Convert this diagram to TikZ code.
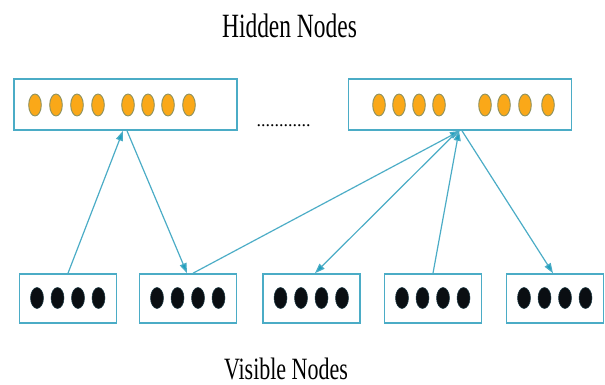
\documentclass[tikz,border=0pt]{standalone}
\usepackage{fontspec}
\setmainfont{Liberation Serif}
\usetikzlibrary{arrows.meta}
\definecolor{boxline}{RGB}{75,172,198}
\definecolor{tipcol}{RGB}{30,160,190}
\definecolor{hidfill}{RGB}{250,168,24}
\definecolor{hidedge}{RGB}{140,145,95}
\definecolor{visfill}{RGB}{10,14,18}
\tikzset{
  layerbox/.style={draw=boxline, line width=1.6pt, fill=white, inner sep=0pt},
  hiddenbox/.style={layerbox, minimum width=223pt, minimum height=51pt},
  visiblebox/.style={layerbox, minimum width=97pt, minimum height=49pt},
  hidunit/.style={fill=hidfill, draw=hidedge, line width=0.9pt},
  visunit/.style={fill=visfill, draw=visfill!70!boxline, line width=0.5pt},
  link/.style={draw=boxline, line width=1.2pt},
  arr/.style={link, -{Triangle[length=10pt,width=7pt,fill=tipcol]}},
}
\begin{document}
\begin{tikzpicture}[x=1pt,y=-1pt]
\useasboundingbox (0,0) rectangle (605,385);

% layer captions
\node[anchor=base, xscale=0.69, inner sep=0pt, font=\fontsize{34}{34}\selectfont] (hcap) at (289.5,38) {Hidden Nodes};
\node[anchor=base, xscale=0.71, inner sep=0pt, font=\fontsize{31}{31}\selectfont] (vcap) at (286,379) {Visible Nodes};

% hidden layer groups
\node[hiddenbox] (h1) at (125.5,104.5) {};
\node[hiddenbox] (h2) at (460,104.5) {};
\node[anchor=base, inner sep=0pt, font=\fontsize{18}{18}\selectfont] (gap) at (283.5,127) {............};

\foreach \x in {35,56,77,98,128,148,168,189}
  \draw[hidunit] (\x,105) ellipse (6.3 and 11);
\foreach \x in {379,399,419,439,485,504,525,548}
  \draw[hidunit] (\x,105) ellipse (6.3 and 11);

% visible layer groups
\node[visiblebox] (v1) at (68,298.5) {};
\node[visiblebox] (v2) at (188,298.5) {};
\node[visiblebox] (v3) at (311.5,298.5) {};
\node[visiblebox] (v4) at (433,298.5) {};
\node[visiblebox] (v5) at (555,298.5) {};

\foreach \c in {68,188,311.5,433,555}
  \foreach \d in {-31,-10.5,10,30.5}
    \draw[visunit] (\c+\d,298) ellipse (6.5 and 10.5);

% connections
\draw[arr] (v1.north) -- ([xshift=-2.5pt]h1.south);
\draw[arr] ([xshift=1.5pt]h1.south) -- ([xshift=-1pt]v2.north);
\draw[arr] ([xshift=5pt]v2.north) -- (h2.south);
\draw[arr] ([xshift=-2pt]h2.south) -- ([xshift=3.5pt]v3.north);
\draw[arr] (v4.north) -- ([xshift=-1pt]h2.south);
\draw[arr] ([xshift=2pt]h2.south) -- ([xshift=-2pt]v5.north);
\end{tikzpicture}
\end{document}
